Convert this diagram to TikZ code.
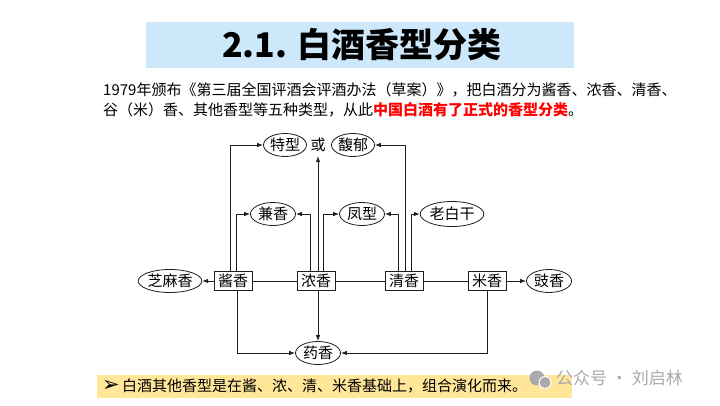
\documentclass[tikz,border=0pt]{standalone}
\usepackage{fontspec}
\setmainfont{Noto Sans CJK SC}
\newfontfamily\dejavu{DejaVu Sans}
\usetikzlibrary{arrows.meta,shapes.geometric}
\definecolor{titleblue}{HTML}{CCE8FA}
\definecolor{bandyellow}{HTML}{FFE699}
\definecolor{wmgray}{RGB}{170,170,170}
\definecolor{linegray}{RGB}{30,30,30}
\begin{document}
\begin{tikzpicture}[x=1pt,y=-1pt,
  box/.style={draw=linegray, line width=0.8pt, minimum width=38pt, minimum height=19pt, inner sep=0pt, font=\fontsize{15}{15}\selectfont},
  oval/.style={draw=linegray, ellipse, line width=0.8pt, minimum width=45pt, minimum height=23pt, inner sep=0pt, font=\fontsize{15}{15}\selectfont},
  conn/.style={draw=linegray, line width=0.8pt},
  arr/.style={conn, -{Latex[length=6pt,width=4.5pt]}},
  para/.style={anchor=base west, inner sep=0pt, font=\fontsize{15}{15}\selectfont}
]
\useasboundingbox[fill=white] (0,0) rectangle (720,405);
% title
\fill[titleblue] (146,22) rectangle (574,68);
\node[font=\fontsize{34}{34}\selectfont\bfseries, inner sep=0pt] (title) at (362,45) {2.1. 白酒香型分类};
% paragraph
\node[para] (p1) at (103,95) {1979年颁布《第三届全国评酒会评酒办法（草案）》，把白酒分为酱香、浓香、清香、};
\node[para] (p2) at (103,115) {谷（米）香、其他香型等五种类型，从此{\color{red}\bfseries 中国白酒有了正式的香型分类}。};
% diagram nodes
\node[box] (jiang) at (233,281) {酱香};
\node[box] (nong) at (316,281) {浓香};
\node[box] (qing) at (404,281) {清香};
\node[box] (mi) at (487,281) {米香};
\node[oval] (zhima) at (170,281) {芝麻香};
\node[oval] (chi) at (549,281) {豉香};
\node[oval] (yao) at (318,353) {药香};
\node[oval] (jian) at (273,214) {兼香};
\node[oval] (feng) at (362,214) {凤型};
\node[oval, minimum width=51pt, minimum height=25pt] (lao) at (452,214) {老白干};
\node[oval, minimum width=43pt] (te) at (285,145) {特型};
\node[font=\fontsize{15}{15}\selectfont, inner sep=2pt] (huo) at (318,145) {或};
\node[oval, minimum width=43pt] (fu) at (353,145) {馥郁};
% connectors
\draw[conn] (jiang.east) -- (nong.west);
\draw[conn] (nong.east) -- (qing.west);
\draw[conn] (qing.east) -- (mi.west);
\draw[arr] ([xshift=-3pt]jiang.north) |- (te.west);
\draw[arr] ([xshift=3pt]jiang.north) |- (jian.west);
\draw[arr] ([xshift=-6pt]nong.north) |- (jian.east);
\draw[arr] (nong.north -| huo.south) -- ([yshift=-2pt]huo.south);
\draw[arr] ([xshift=7pt]nong.north) |- (feng.west);
\draw[arr] ([xshift=-6pt]qing.north) |- (feng.east);
\draw[arr] ([xshift=1pt]qing.north) |- (fu.east);
\draw[arr] ([xshift=7pt]qing.north) |- (lao.west);
\draw[arr] (jiang.west) -- (zhima.east);
\draw[arr] (mi.east) -- (chi.west);
\draw[arr] ([xshift=4pt]jiang.south) |- (yao.west);
\draw[arr] (nong.south -| yao.north) -- (yao.north);
\draw[arr] (mi.south) |- (yao.east);
% bottom band
\fill[bandyellow] (97,375) rectangle (572,398);
\node[anchor=center, inner sep=0pt, font=\dejavu\bfseries\fontsize{21}{21}\selectfont] (bullet) at (111,386) {➢};
\node[anchor=west, inner sep=0pt, font=\fontsize{15}{15}\selectfont] (note) at (122,386) {白酒其他香型是在酱、浓、清、米香基础上，组合演化而来。};
% watermark
\fill[wmgray] (537,378) circle (7.5);
\fill[white] (545,382.5) circle (6.5);
\fill[wmgray] (545,382.5) circle (5.5);
\node[anchor=west, inner sep=0pt, text=wmgray, font=\fontsize{17}{17}\selectfont] (wm) at (556,378) {公众号 · 刘启林};
\end{tikzpicture}
\end{document}
